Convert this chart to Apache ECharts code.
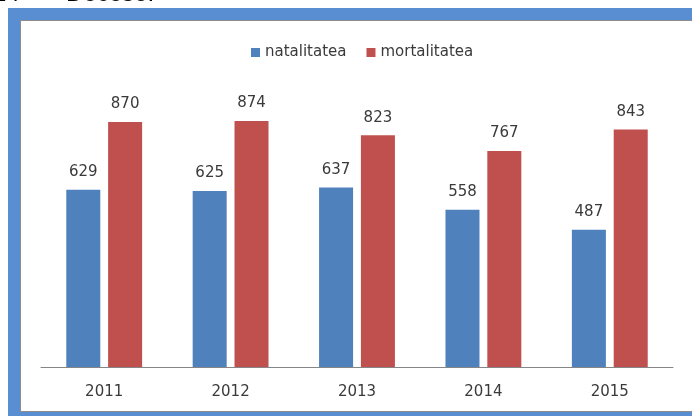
<!DOCTYPE html>
<html>
<head>
<meta charset="utf-8">
<script src="https://cdn.jsdelivr.net/npm/echarts@6/dist/echarts.min.js"></script>
<style>
html,body{margin:0;padding:0;background:#fff;}
#chart{width:692px;height:417px;}
</style>
</head>
<body>
<div id="chart"></div>
<script>
var categories = ['2011', '2012', '2013', '2014', '2015'];
var natalitatea = [629, 625, 637, 558, 487];
var mortalitatea = [870, 874, 823, 767, 843];
var seriesNames = ['natalitatea', 'mortalitatea'];

var chart = echarts.init(document.getElementById('chart'), null, {renderer: 'canvas'});
var FONT = 'DejaVu Sans';
var TXT = '#3a3a3a';

chart.setOption({
  animation: false,
  backgroundColor: '#ffffff',
  graphic: [
    {type: 'rect', z: -10, shape: {x: 8, y: 8, width: 700, height: 408}, style: {fill: '#5A8ED3'}},
    {type: 'rect', z: -9, shape: {x: 20, y: 20, width: 700, height: 392}, style: {fill: '#8c8c8c'}},
    {type: 'rect', z: -8, shape: {x: 21, y: 21, width: 700, height: 390}, style: {fill: '#ffffff'}},
    {type: 'text', z: 10, left: -7, top: -18, style: {text: '24', font: '24px "Liberation Sans"', fill: '#000'}},
    {type: 'text', z: 10, left: 42, top: -18, style: {text: '–', font: '24px "Liberation Sans"', fill: '#000'}},
    {type: 'text', z: 10, left: 66, top: -18, style: {text: 'Decese.', font: '24px "Liberation Sans"', fill: '#000'}}
  ],
  legend: {
    data: seriesNames,
    left: 246,
    top: 40,
    itemWidth: 9,
    itemHeight: 9,
    itemGap: 20,
    icon: 'rect',
    textStyle: {fontFamily: FONT, fontSize: 15, color: TXT}
  },
  grid: {left: 41, right: 19, top: 85.4, bottom: 50, containLabel: false},
  xAxis: {
    type: 'category',
    data: categories,
    axisLine: {lineStyle: {color: '#868686', width: 1}},
    axisTick: {show: false},
    axisLabel: {fontFamily: FONT, fontSize: 15, color: TXT, margin: 18}
  },
  yAxis: {
    type: 'value',
    min: 0,
    max: 1000,
    show: false,
    splitLine: {show: false}
  },
  series: [
    {
      name: seriesNames[0],
      type: 'bar',
      data: natalitatea,
      barGap: '23%',
      barCategoryGap: '40%',
      itemStyle: {color: '#4F81BD'},
      label: {show: true, position: 'top', distance: 10, fontFamily: FONT, fontSize: 15, color: TXT}
    },
    {
      name: seriesNames[1],
      type: 'bar',
      data: mortalitatea,
      barGap: '23%',
      barCategoryGap: '40%',
      itemStyle: {color: '#C0504D'},
      label: {show: true, position: 'top', distance: 10, fontFamily: FONT, fontSize: 15, color: TXT}
    }
  ]
});
</script>
</body>
</html>
